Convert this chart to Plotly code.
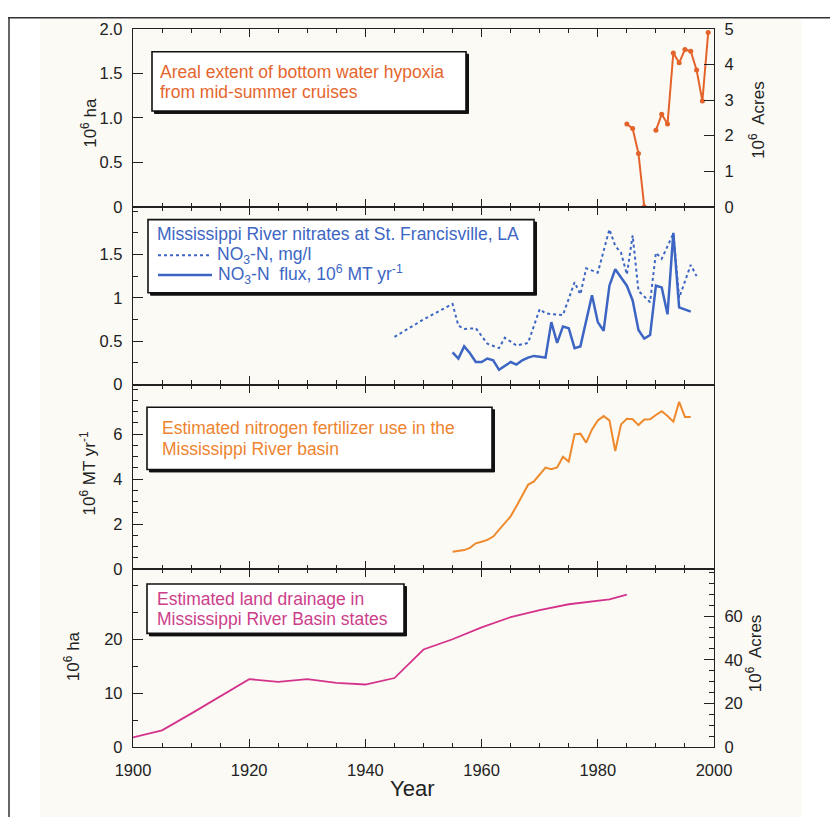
import plotly.graph_objects as go

# ---------------- data ----------------
hyp_years = [1985, 1986, 1987, 1988, 1989, 1990, 1991, 1992, 1993, 1994, 1995, 1996, 1997, 1998, 1999]
hyp_area = [0.93, 0.88, 0.60, 0.0, None, 0.86, 1.04, 0.93, 1.73, 1.62, 1.77, 1.75, 1.54, 1.19, 1.96]

conc_years = [1945, 1950, 1955, 1956, 1957, 1959, 1961, 1963, 1964, 1966, 1968, 1970, 1971, 1974,
              1976, 1977, 1978, 1980, 1982, 1983, 1984, 1985, 1986, 1987, 1989, 1990, 1991, 1993,
              1994, 1996, 1997]
conc_mgl = [0.55, 0.75, 0.93, 0.68, 0.64, 0.65, 0.47, 0.42, 0.54, 0.45, 0.48, 0.87, 0.82, 0.80,
            1.18, 1.04, 1.34, 1.29, 1.79, 1.60, 1.52, 1.27, 1.72, 1.08, 0.95, 1.52, 1.45, 1.74,
            1.00, 1.38, 1.25]

flux_years = [1955, 1956, 1957, 1958, 1959, 1960, 1961, 1962, 1963, 1964, 1965, 1966, 1967, 1968,
              1969, 1970, 1971, 1972, 1973, 1974, 1975, 1976, 1977, 1979, 1980, 1981, 1982, 1983,
              1984, 1985, 1986, 1987, 1988, 1989, 1990, 1991, 1992, 1993, 1994, 1996]
flux = [0.37, 0.30, 0.44, 0.36, 0.26, 0.26, 0.30, 0.28, 0.17, 0.22, 0.26, 0.23, 0.28, 0.31,
        0.33, 0.32, 0.31, 0.72, 0.48, 0.67, 0.65, 0.42, 0.44, 1.03, 0.72, 0.62, 1.14, 1.33,
        1.23, 1.14, 0.97, 0.63, 0.53, 0.57, 1.14, 1.12, 0.81, 1.75, 0.89, 0.84]

fert_years = list(range(1955, 1997))
fert = [0.78, 0.80, 0.85, 0.95, 1.15, 1.22, 1.30, 1.45, 1.75, 2.05, 2.35, 2.80, 3.30, 3.75,
        3.90, 4.20, 4.51, 4.44, 4.52, 4.99, 4.78, 5.99, 6.02, 5.62, 6.21, 6.61, 6.80, 6.61,
        5.25, 6.43, 6.68, 6.66, 6.40, 6.65, 6.66, 6.85, 7.02, 6.80, 6.55, 7.43, 6.76, 6.76]

drain_years = [1900, 1905, 1910, 1915, 1920, 1925, 1930, 1935, 1940, 1945, 1950, 1955, 1960,
               1965, 1970, 1975, 1980, 1982, 1985]
drain = [1.8, 3.1, 6.2, 9.4, 12.6, 12.1, 12.6, 11.9, 11.6, 12.8, 18.1, 20.0, 22.2,
         24.1, 25.4, 26.5, 27.2, 27.4, 28.3]

ACRES_PER_HA = 2.471
x_ticks = [1900, 1920, 1940, 1960, 1980, 2000]

# ---------------- geometry (page pixels; the page body adds an 8 px margin) ----------------
OFF = 8
PAGE_W, PAGE_H = 838, 817
W, H = PAGE_W - OFF, PAGE_H - OFF
L, R, T, B = 133, 714, 20, 747   # plot area in page pixels


def px(x):
    return (x - L) / (R - L)


def py(y):
    return (B - y) / (B - T)


FONT = "Liberation Sans, Arial, Helvetica, sans-serif"
AX = "#222222"

HYP_C = "#e4632a"
BLUE = "#3d66c4"
FERT_C = "#ef8a2c"
DRAIN_C = "#d4338c"

fig = go.Figure()

fig.add_trace(go.Scatter(x=hyp_years, y=hyp_area, mode="lines+markers", xaxis="x", yaxis="y",
                         line=dict(color=HYP_C, width=2), marker=dict(color=HYP_C, size=5),
                         connectgaps=False, showlegend=False))
fig.add_trace(go.Scatter(x=hyp_years, y=[None if v is None else v * ACRES_PER_HA for v in hyp_area],
                         mode="lines", xaxis="x", yaxis="y5", line=dict(width=0),
                         opacity=0, hoverinfo="skip", showlegend=False))
fig.add_trace(go.Scatter(x=conc_years, y=conc_mgl, mode="lines", xaxis="x2", yaxis="y2",
                         line=dict(color=BLUE, width=2, dash="dot"), showlegend=False))
fig.add_trace(go.Scatter(x=flux_years, y=flux, mode="lines", xaxis="x2", yaxis="y2",
                         line=dict(color=BLUE, width=2.5), showlegend=False))
fig.add_trace(go.Scatter(x=fert_years, y=fert, mode="lines", xaxis="x3", yaxis="y3",
                         line=dict(color=FERT_C, width=2), showlegend=False))
fig.add_trace(go.Scatter(x=drain_years, y=drain, mode="lines", xaxis="x4", yaxis="y4",
                         line=dict(color=DRAIN_C, width=1.8), showlegend=False))
fig.add_trace(go.Scatter(x=drain_years, y=[v * ACRES_PER_HA for v in drain], mode="lines",
                         xaxis="x4", yaxis="y6", line=dict(width=0), opacity=0,
                         hoverinfo="skip", showlegend=False))

tickfont = dict(family=FONT, size=16.5, color=AX)


def xaxis(anchor, labels):
    return dict(range=[1900, 2000], anchor=anchor, domain=[0, 1], tickmode="array",
                tickvals=x_ticks, ticks="inside", ticklen=8, tickwidth=1.3, tickcolor=AX,
                minor=dict(dtick=5, tick0=1900, ticks="inside", ticklen=4, tickwidth=1.2,
                           tickcolor=AX),
                showline=True, linecolor=AX, linewidth=1.3, mirror="ticks",
                showgrid=False, zeroline=False, showticklabels=labels, tickfont=tickfont,
                ticklabelstandoff=8)


def yaxis(domain, rng, vals, texts, minor=None, side="left", overlay=None, anchor=None):
    d = dict(domain=domain, range=rng, tickmode="array", tickvals=vals, ticktext=texts,
             ticks="inside", ticklen=10, tickwidth=1.3, tickcolor=AX, showline=True,
             linecolor=AX, linewidth=1.3, mirror=True, showgrid=False, zeroline=False,
             tickfont=tickfont, side=side, ticklabelstandoff=6)
    if minor is not None:
        d["minor"] = dict(dtick=minor, ticks="inside", ticklen=5, tickwidth=1.2, tickcolor=AX)
    if overlay:
        d["overlaying"] = overlay
        d.pop("domain")
    if anchor:
        d["anchor"] = anchor
    return d


d1 = [py(200), 1.0]
d2 = [py(380), py(200)]
d3 = [py(567), py(380)]
d4 = [0.0, py(567)]

fig.update_layout(
    width=W, height=H,
    margin=dict(l=L - OFF, r=PAGE_W - R, t=T - OFF, b=PAGE_H - B, pad=0),
    paper_bgcolor="white", plot_bgcolor="rgba(0,0,0,0)",
    font=dict(family=FONT, color=AX),
    showlegend=False,
    xaxis=xaxis("y", False),
    xaxis2=xaxis("y2", False),
    xaxis3=xaxis("y3", False),
    xaxis4=xaxis("y4", True),
    yaxis=yaxis(d1, [0, 2.0], [0, 0.5, 1.0, 1.5, 2.0], ["0", "0.5", "1.0", "1.5", "2.0"],
                anchor="x"),
    yaxis2=yaxis(d2, [0, 2.05], [0, 0.5, 1, 1.5], ["0", "0.5", "1", "1.5"], minor=0.25,
                 anchor="x2"),
    yaxis3=yaxis(d3, [0, 8.2], [0, 2, 4, 6], ["0", "2", "4", "6"], minor=0.5, anchor="x3"),
    yaxis4=yaxis(d4, [0, 33.0], [0, 10, 20], ["0", "10", "20"], minor=5, anchor="x4"),
    yaxis5=yaxis(None, [0, 5], [0, 1, 2, 3, 4, 5], ["0", "1", "2", "3", "4", "5"],
                 side="right", overlay="y", anchor="x"),
    yaxis6=yaxis(None, [0, 33.0 * ACRES_PER_HA], [0, 20, 40, 60], ["0", "20", "40", "60"],
                 minor=5, side="right", overlay="y4", anchor="x4"),
)

shapes = []
# cream scanned-page background and outer frame lines
shapes.append(dict(type="rect", xref="paper", yref="paper", x0=px(40), x1=px(802),
                   y0=py(830), y1=py(10), fillcolor="#fbfaf5", line=dict(width=0),
                   layer="below"))
shapes.append(dict(type="line", xref="paper", yref="paper", x0=px(8), x1=px(840),
                   y0=py(8.5), y1=py(8.5), line=dict(color="#333", width=1.5)))
shapes.append(dict(type="line", xref="paper", yref="paper", x0=px(9), x1=px(9),
                   y0=py(8), y1=py(830), line=dict(color="#333", width=1.5)))

boxes = [(152, 43, 466, 103), (148, 213, 534, 287), (147, 403, 492, 466), (147, 582, 404, 632)]
for (x0, y0, x1, y1) in boxes:
    shapes.append(dict(type="rect", xref="paper", yref="paper", x0=px(x0 + 2.5), x1=px(x1 + 2.5),
                       y0=py(y1 + 2.5), y1=py(y0 + 2.5), fillcolor="#111",
                       line=dict(color="#111", width=1)))
    shapes.append(dict(type="rect", xref="paper", yref="paper", x0=px(x0), x1=px(x1),
                       y0=py(y1), y1=py(y0), fillcolor="white",
                       line=dict(color="#111", width=1.6)))

# legend samples in the nitrate box
shapes.append(dict(type="line", xref="paper", yref="paper", x0=px(158), x1=px(212),
                   y0=py(249), y1=py(249), line=dict(color=BLUE, width=2, dash="dot")))
shapes.append(dict(type="line", xref="paper", yref="paper", x0=px(158), x1=px(212),
                   y0=py(269), y1=py(269), line=dict(color=BLUE, width=2.5)))
fig.update_layout(shapes=shapes)

ann = []


def text(x, y, s, color, size=17.5, angle=0, xanchor="left"):
    ann.append(dict(xref="paper", yref="paper", x=px(x), y=py(y), text=s, showarrow=False,
                    xanchor=xanchor, yanchor="middle", textangle=angle,
                    font=dict(family=FONT, size=size, color=color)))


BOX1_C = "#e5662c"
BOX3_C = "#ee8430"
BOX4_C = "#cc408a"
text(158, 64, "Areal extent of bottom water hypoxia", BOX1_C)
text(158, 84, "from mid-summer cruises", BOX1_C)
text(155, 228, "Mississippi River nitrates at St. Francisville, LA", BLUE)
text(215, 249, "NO<sub>3</sub>-N, mg/l", BLUE)
text(216, 269, "NO<sub>3</sub>-N  flux, 10<sup>6</sup> MT yr<sup>-1</sup>", BLUE)
text(160, 424, "Estimated nitrogen fertilizer use in the", BOX3_C)
text(160, 445, "Mississippi River basin", BOX3_C)
text(155, 597, "Estimated land drainage in", BOX4_C)
text(155, 617, "Mississippi River Basin states", BOX4_C)

text(89, 115, "10<sup>6</sup> ha", AX, size=17, angle=-90, xanchor="center")
text(88, 470, "10<sup>6</sup> MT yr<sup>-1</sup>", AX, size=17, angle=-90, xanchor="center")
text(72, 655, "10<sup>6</sup> ha", AX, size=17, angle=-90, xanchor="center")
text(757, 112, "10<sup>6</sup>\u00a0 Acres", AX, size=17, angle=-90, xanchor="center")
text(754, 652, "10<sup>6</sup>\u00a0 Acres", AX, size=17, angle=-90, xanchor="center")
text(412, 789, "Year", AX, size=22, xanchor="center")

fig.update_layout(annotations=ann)

fig.write_html("out.html")
